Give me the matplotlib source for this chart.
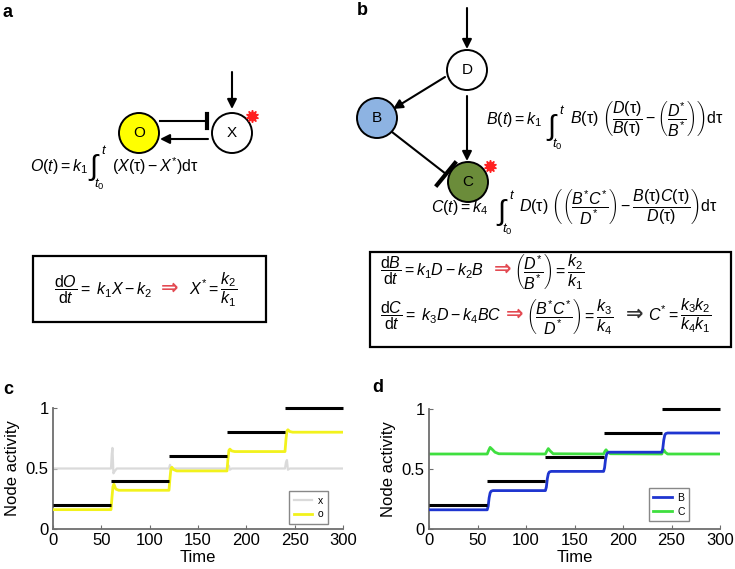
import matplotlib.pyplot as plt
from matplotlib.patches import Circle, Rectangle

plt.rcParams["font.family"] = ["Liberation Sans", "DejaVu Sans"]
plt.rcParams["mathtext.fontset"] = "custom"
plt.rcParams["mathtext.rm"] = "Liberation Sans"
plt.rcParams["mathtext.it"] = "Liberation Sans:italic"
plt.rcParams["mathtext.bf"] = "Liberation Sans:bold"
plt.rcParams["mathtext.sf"] = "Liberation Sans"

# ---- data ----
ref_starts = [0, 60, 120, 180, 240]
ref_ends = [60, 120, 180, 240, 300]
ref_levels = [0.2, 0.4, 0.6, 0.8, 1.0]

t_x = [0, 60, 60.8, 61.5, 62.5, 64, 66, 120, 121, 122, 123.5, 126,
       180, 181, 182, 183, 185, 240, 241, 242, 243, 245, 300]
x_vals = [0.5, 0.5, 0.62, 0.67, 0.46, 0.48, 0.5, 0.5, 0.53, 0.51, 0.49, 0.5,
          0.5, 0.53, 0.52, 0.49, 0.5, 0.5, 0.55, 0.57, 0.49, 0.5, 0.5]

t_o = [0, 60, 61, 62, 63, 65, 68, 120, 121, 122, 123, 125, 128,
       180, 181, 182, 183, 185, 188, 240, 241, 242, 243, 245, 248, 300]
o_vals = [0.16, 0.16, 0.26, 0.35, 0.37, 0.33, 0.32, 0.32, 0.42, 0.50, 0.51,
          0.49, 0.48, 0.48, 0.58, 0.65, 0.66, 0.645, 0.64, 0.64, 0.74, 0.81,
          0.82, 0.805, 0.80, 0.80]

t_b = [0, 60, 61, 62, 63, 64, 66, 120, 121, 122, 123, 124, 126,
       180, 181, 182, 183, 184, 186, 240, 241, 242, 243, 244, 246, 300]
b_vals = [0.16, 0.16, 0.19, 0.26, 0.30, 0.315, 0.32, 0.32, 0.35, 0.42, 0.46,
          0.475, 0.48, 0.48, 0.51, 0.58, 0.62, 0.635, 0.64, 0.64, 0.67, 0.74,
          0.78, 0.795, 0.80, 0.80]

t_c = [0, 60, 61.5, 63, 65, 68, 72, 120, 121.5, 123, 125, 128,
       180, 181.5, 182.5, 184, 187, 240, 241, 242, 243.5, 246, 300]
c_vals = [0.625, 0.625, 0.655, 0.68, 0.665, 0.64, 0.627, 0.625, 0.65, 0.67,
          0.65, 0.627, 0.625, 0.65, 0.66, 0.645, 0.627, 0.625, 0.645, 0.66,
          0.64, 0.625, 0.625]

xticks = [0, 50, 100, 150, 200, 250, 300]
yticks = [0, 0.5, 1]
ytick_labels = ["0", "0.5", "1"]

W, H = 735, 569
fig = plt.figure(figsize=(W / 100, H / 100), dpi=100)
ov = fig.add_axes([0, 0, 1, 1])
ov.set_xlim(0, W)
ov.set_ylim(H, 0)
ov.axis("off")

FS = 11.5
RED = "#e34a52"


def node(x, y, label, fc):
    ov.add_patch(Circle((x, y), 20, fc=fc, ec="k", lw=1.4, zorder=3))
    ov.text(x, y, label, ha="center", va="center", fontsize=11, zorder=4)


def arrow(x0, y0, x1, y1):
    ov.annotate("", xy=(x1, y1), xytext=(x0, y0),
                arrowprops=dict(arrowstyle="-|>", color="k", lw=1.5,
                                mutation_scale=14, shrinkA=0, shrinkB=0))


def star(x, y):
    ov.plot(x, y, marker=(10, 1, 0), ms=9, color="#ff2020", zorder=5)


def txt(x, y, s, fs=FS, **kw):
    ov.text(x, y, s, fontsize=fs, va="center", **kw)


def integral(x, y):
    # tall integral sign with its limits
    txt(x, y, "\u222b", fs=21)
    txt(x + 12, y - 17, r"$t$", fs=9.5)
    txt(x + 5, y + 17, r"$t_0$", fs=9.5)


def implies(x, y, color):
    txt(x, y, "\u21d2", fs=15, color=color, fontweight="bold",
        family="DejaVu Sans")


# ---- panel a ----
ov.text(3, 12, "a", fontsize=13, fontweight="bold", va="center")
node(139, 133, "O", "#ffff00")
node(232, 133, "X", "white")
arrow(232, 72, 232, 109)
ov.plot([160, 206], [121, 121], color="k", lw=1.5)
ov.plot([207, 207], [114, 128], color="k", lw=3)
arrow(208, 139, 160, 139)
star(252, 116)
txt(30, 166, r"$O(t) = k_1$")
integral(89, 167)
txt(112, 166, r"$(X(\mathrm{\tau}) - X^{*})\mathrm{d\tau}$")

ov.add_patch(Rectangle((33, 256), 233, 66, fill=False, ec="k", lw=1.6))
txt(54, 290, r"$\dfrac{\mathrm{d}O}{\mathrm{d}t} = \ k_1X - k_2$")
implies(161, 288, RED)
txt(189, 290, r"$X^{*} = \dfrac{k_2}{k_1}$")

# ---- panel b ----
ov.text(357, 10, "b", fontsize=13, fontweight="bold", va="center")
node(467, 70, "D", "white")
node(377, 118, "B", "#8db3e2")
node(468, 182, "C", "#6b8c3a")
arrow(467, 8, 467, 49)
arrow(445, 77, 393, 109)
arrow(467, 96, 467, 161)
ov.plot([392, 446], [132, 174], color="k", lw=1.5)
ov.plot([437, 455], [185, 163], color="k", lw=3)
star(490, 166)

txt(486, 119, r"$B(t) = k_1$")
integral(547, 127)
txt(570, 119, r"$B(\mathrm{\tau})\ \left(\dfrac{D(\mathrm{\tau})}{B(\mathrm{\tau})}"
    r" - \left(\dfrac{D^{*}}{B^{*}}\right)\right)\mathrm{d\tau}$")

txt(431, 207, r"$C(t) = k_4$")
integral(497, 212)
txt(519, 207, r"$D(\mathrm{\tau})\ \left(\left(\dfrac{B^{*}C^{*}}{D^{*}}\right)"
    r" - \dfrac{B(\mathrm{\tau})C(\mathrm{\tau})}{D(\mathrm{\tau})}\right)\mathrm{d\tau}$")

ov.add_patch(Rectangle((370, 252), 361, 95, fill=False, ec="k", lw=1.6))
txt(380, 271, r"$\dfrac{\mathrm{d}B}{\mathrm{d}t} = k_1D - k_2B$")
implies(494, 269, RED)
txt(514, 271, r"$\left(\dfrac{D^{*}}{B^{*}}\right) = \dfrac{k_2}{k_1}$")
txt(380, 316, r"$\dfrac{\mathrm{d}C}{\mathrm{d}t} = \ k_3D - k_4BC$")
implies(506, 314, RED)
txt(526, 316, r"$\left(\dfrac{B^{*}C^{*}}{D^{*}}\right) = \dfrac{k_3}{k_4}$")
implies(626, 314, "#333333")
txt(648, 316, r"$C^{*} = \dfrac{k_3k_2}{k_4k_1}$")


# ---- panels c, d ----
def px_axes(left, right, top, bottom):
    return fig.add_axes([left / W, (H - bottom) / H, (right - left) / W,
                         (bottom - top) / H])


def style(ax):
    ax.set_xlim(0, 300)
    ax.set_ylim(0, 1)
    for s in ["top", "right"]:
        ax.spines[s].set_visible(False)
    for s in ["left", "bottom"]:
        ax.spines[s].set_color("#6e6e6e")
        ax.spines[s].set_linewidth(1.3)
    ax.set_xticks(xticks)
    ax.set_yticks(yticks)
    ax.set_yticklabels(ytick_labels)
    ax.tick_params(direction="in", length=3, color="#6e6e6e",
                   labelsize=12, pad=3)
    ax.set_xlabel("Time", fontsize=12, labelpad=1)
    ax.set_ylabel("Node activity", fontsize=12, labelpad=4)
    ax.patch.set_alpha(0)
    ax.hlines(ref_levels, ref_starts, ref_ends, color="k", lw=2.2,
              zorder=4, clip_on=False)


LEG = dict(loc="lower right", fontsize=7.5, fancybox=False,
           edgecolor="#888888", framealpha=1, handlelength=1.8,
           handletextpad=0.5, borderpad=0.45, labelspacing=0.35,
           borderaxespad=0)

axc = px_axes(53, 343, 408, 529)
style(axc)
axc.plot(t_x, x_vals, color="#dadada", lw=1.6, label="x", zorder=2)
axc.plot(t_o, o_vals, color="#f2f21c", lw=2.0, label="o", zorder=3)
axc.legend(bbox_to_anchor=(0.948, 0.04), **LEG)
fig.text(3 / W, 1 - 390 / H, "c", fontsize=13, fontweight="bold", va="center")

axd = px_axes(429, 720, 409, 529)
style(axd)
axd.plot(t_b, b_vals, color="#1f35d0", lw=2.0, label="B", zorder=3)
axd.plot(t_c, c_vals, color="#3fdf3f", lw=2.0, label="C", zorder=2)
axd.legend(bbox_to_anchor=(0.895, 0.065), **LEG)
fig.text(372 / W, 1 - 388 / H, "d", fontsize=13, fontweight="bold", va="center")

fig.savefig("out.png", dpi=100)
